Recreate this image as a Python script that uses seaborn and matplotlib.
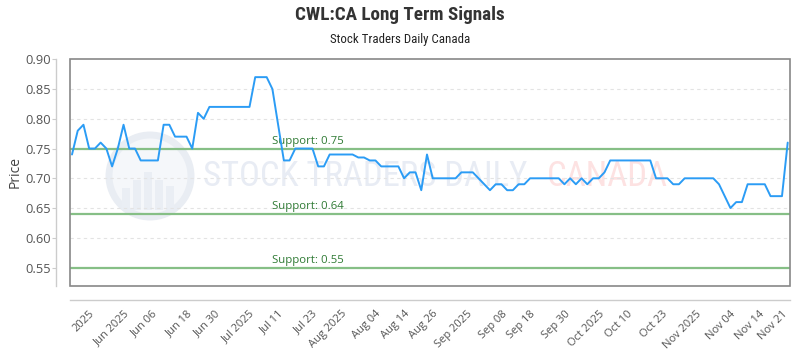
import matplotlib
matplotlib.use("Agg")
import matplotlib.pyplot as plt
import seaborn as sns
import pandas as pd
import numpy as np
from matplotlib.patches import Rectangle, Ellipse

prices = [0.74, 0.78, 0.79, 0.75, 0.75, 0.76, 0.75, 0.72, 0.75, 0.79,
          0.75, 0.75, 0.73, 0.73, 0.73, 0.73, 0.79, 0.79, 0.77, 0.77,
          0.77, 0.75, 0.81, 0.80, 0.82, 0.82, 0.82, 0.82, 0.82, 0.82,
          0.82, 0.82, 0.87, 0.87, 0.87, 0.85, 0.79, 0.73, 0.73, 0.75,
          0.75, 0.75, 0.75, 0.72, 0.72, 0.74, 0.74, 0.74, 0.74, 0.74,
          0.735, 0.735, 0.73, 0.73, 0.72, 0.72, 0.72, 0.72, 0.70, 0.71,
          0.71, 0.68, 0.74, 0.70, 0.70, 0.70, 0.70, 0.70, 0.71, 0.71,
          0.71, 0.70, 0.69, 0.68, 0.69, 0.69, 0.68, 0.68, 0.69, 0.69,
          0.70, 0.70, 0.70, 0.70, 0.70, 0.70, 0.69, 0.70, 0.69, 0.70,
          0.69, 0.70, 0.70, 0.71, 0.73, 0.73, 0.73, 0.73, 0.73, 0.73,
          0.73, 0.73, 0.70, 0.70, 0.70, 0.69, 0.69, 0.70, 0.70, 0.70,
          0.70, 0.70, 0.70, 0.69, 0.67, 0.65, 0.66, 0.66, 0.69, 0.69,
          0.69, 0.69, 0.67, 0.67, 0.67, 0.76]

tick_labels = ["2025", "Jun 2025", "Jun 06", "Jun 18", "Jun 30", "Jul 2025",
               "Jul 11", "Jul 23", "Aug 2025", "Aug 04", "Aug 14", "Aug 26",
               "Sep 2025", "Sep 08", "Sep 18", "Sep 30", "Oct 2025", "Oct 10",
               "Oct 23", "Nov 2025", "Nov 04", "Nov 14", "Nov 21"]
tick_index = [3, 9, 14, 20, 25, 31, 36, 42, 47, 53, 58, 63, 69, 75, 80, 86,
              92, 97, 103, 109, 115, 120, 124]

support_levels = [0.75, 0.64, 0.55]
support_labels = ["Support: 0.75", "Support: 0.64", "Support: 0.55"]

sns.set_theme(style="white")
plt.rcParams['font.family'] = ['Open Sans', 'DejaVu Sans']
COND = ['Roboto Condensed', 'Roboto', 'DejaVu Sans']

df = pd.DataFrame({"idx": np.arange(len(prices)), "price": prices})

W, H = 800, 350
fig = plt.figure(figsize=(8, 3.5), dpi=100)
ax = fig.add_axes([70 / W, 1 - 286 / H, 720 / W, (286 - 59) / H])
ax.set_facecolor("none")

# watermark (drawn inside the axes, beneath everything)
r = 41
ax.add_patch(Ellipse((150 / W, 1 - 176 / H), 2 * r / W, 2 * r / H,
                     transform=fig.transFigure, facecolor="#f5f7fa",
                     edgecolor="#e9edf3", lw=5, zorder=0, clip_on=False))
for i, hgt in enumerate([22, 30, 38, 30, 24]):
    x0 = 122 + i * 11
    ax.add_patch(Rectangle((x0 / W, 1 - 210 / H), 8 / W, hgt / H,
                           transform=fig.transFigure, facecolor="#eaeef4",
                           edgecolor="none", zorder=0, clip_on=False))
ax.text(203 / W, 1 - 177 / H, "STOCK TRADERS DAILY", fontsize=25,
        family=COND, color="#e8ecf4", ha="left", va="center", zorder=0,
        transform=fig.transFigure)
ax.text(547 / W, 1 - 177 / H, "CANADA", fontsize=25,
        family=COND, color="#fde2e2", ha="left", va="center", zorder=0,
        transform=fig.transFigure)

for y in [0.55, 0.60, 0.65, 0.70, 0.75, 0.80, 0.85]:
    ax.axhline(y, color="#e3e3e3", lw=0.8, ls=(0, (3, 3)), zorder=1)

for lvl, lab in zip(support_levels, support_labels):
    ax.axhline(lvl, color="#86bf86", lw=1.6, zorder=2)
    ax.text(0.2806, lvl + 0.003, lab, transform=ax.get_yaxis_transform(),
            color="#2f7a34", fontsize=8.2, ha="left", va="bottom", zorder=3)

sns.lineplot(data=df, x="idx", y="price", ax=ax, color="#2b9cf5", lw=1.4, zorder=4)

ax.set_xlim(-0.35, len(prices) - 1 + 0.4)
ax.set_ylim(0.519, 0.9005)
yt = [0.55, 0.60, 0.65, 0.70, 0.75, 0.80, 0.85, 0.90]
ax.set_yticks(yt)
ax.set_yticklabels([f"{v:.2f}" for v in yt])
ax.set_xticks(tick_index)
ax.set_xticklabels(tick_labels)
ax.tick_params(axis="x", length=0, pad=6, labelsize=8, labelcolor="#555555",
               labelrotation=45)
ax.tick_params(axis="y", length=3, width=0.8, color="#cccccc", pad=1, labelsize=9.3,
               labelcolor="#555555", left=True)
ax.set_xlabel("")
ax.set_ylabel("Price", fontsize=10, color="#444444")
ax.yaxis.set_label_coords((23 - 70) / 720, 0.5)

for s in ["top", "right"]:
    ax.spines[s].set_visible(False)
for s in ["left", "bottom"]:
    ax.spines[s].set_position(("outward", 10))
    ax.spines[s].set_color("#cccccc")
    ax.spines[s].set_linewidth(1)
ax.add_patch(Rectangle((0, 0), 1, 1, transform=ax.transAxes, fill=False,
                       edgecolor="#888888", lw=1.2, clip_on=False, zorder=5))

fig.text(0.5, 1 - 15 / H, "CWL:CA Long Term Signals", ha="center", va="center",
         fontsize=13.8, fontweight="bold", color="#333333", family=COND)
fig.text(0.5, 1 - 40 / H, "Stock Traders Daily Canada", ha="center", va="center",
         fontsize=9.3, color="#222222", family=COND)

plt.setp(ax.get_xticklabels(), rotation=45, ha="right", rotation_mode="anchor")

fig.savefig("out.png", dpi=100)
